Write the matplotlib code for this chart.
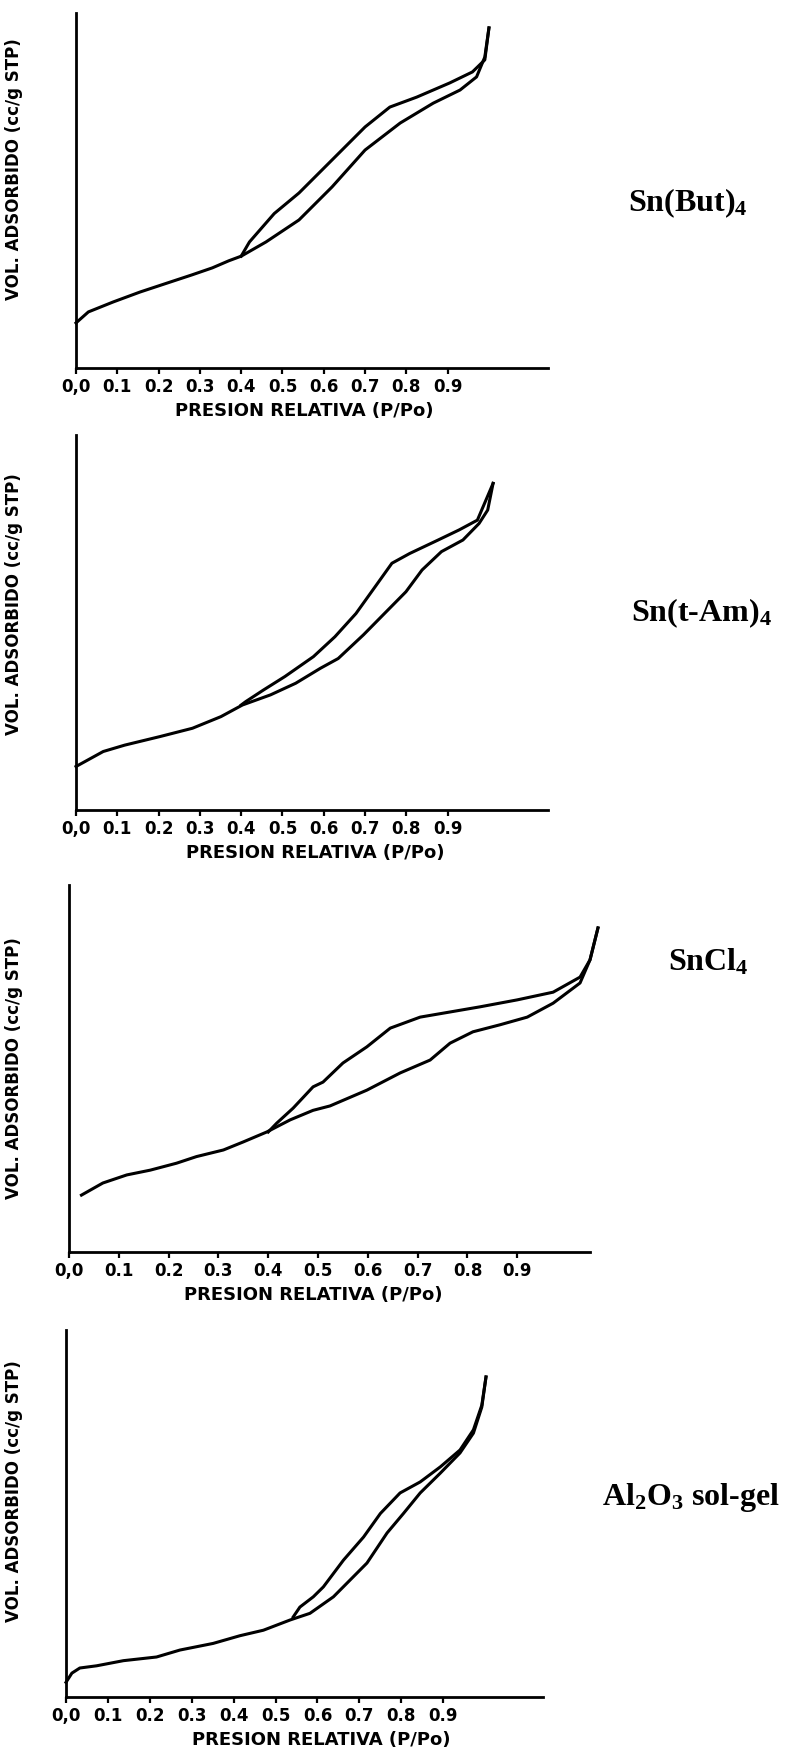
import matplotlib
matplotlib.use("Agg")
import matplotlib.pyplot as plt

# relative pressure ticks (0,0 written with comma as in the original)
tick_vals = [0.0, 0.1, 0.2, 0.3, 0.4, 0.5, 0.6, 0.7, 0.8, 0.9]
tick_labels = ["0,0", "0.1", "0.2", "0.3", "0.4", "0.5", "0.6", "0.7", "0.8", "0.9"]

sample_names = [r"Sn(But)$_4$", r"Sn(t-Am)$_4$", r"SnCl$_4$", r"Al$_2$O$_3$ sol-gel"]

# adsorbed volume in arbitrary units (axis height = 100)
# Sn(But)4
ads1_x = [0.0, 0.03, 0.09, 0.155, 0.22, 0.28, 0.33, 0.37, 0.40, 0.46, 0.54, 0.62, 0.70, 0.785, 0.865, 0.93, 0.97, 0.99, 1.0]
ads1_y = [12.7, 15.8, 18.6, 21.4, 23.9, 26.2, 28.2, 30.2, 31.5, 35.5, 41.7, 51.0, 61.4, 69.0, 74.6, 78.3, 82.0, 87.6, 95.8]
des1_x = [1.0, 0.99, 0.96, 0.905, 0.825, 0.76, 0.70, 0.62, 0.54, 0.48, 0.42, 0.40]
des1_y = [95.8, 86.8, 83.4, 80.3, 76.3, 73.5, 67.9, 58.6, 49.3, 43.5, 35.5, 31.5]

# Sn(t-Am)4
ads2_x = [0.0, 0.066, 0.118, 0.204, 0.282, 0.351, 0.403, 0.471, 0.532, 0.592, 0.635, 0.696, 0.747, 0.799, 0.838, 0.885, 0.937, 0.976, 0.997, 1.01]
ads2_y = [11.6, 15.6, 17.3, 19.6, 21.8, 24.9, 28.0, 30.7, 33.8, 37.8, 40.4, 46.7, 52.4, 58.2, 64.0, 68.9, 72.0, 76.4, 80.0, 87.1]
des2_x = [1.01, 0.972, 0.928, 0.877, 0.808, 0.765, 0.730, 0.678, 0.627, 0.575, 0.506, 0.454, 0.411, 0.40]
des2_y = [87.1, 77.3, 74.7, 72.0, 68.4, 65.8, 60.4, 52.4, 46.2, 40.9, 35.6, 32.0, 28.9, 28.0]

# SnCl4
ads3_x = [0.025, 0.068, 0.116, 0.163, 0.216, 0.256, 0.31, 0.35, 0.397, 0.444, 0.49, 0.524, 0.598, 0.665, 0.725, 0.765, 0.811, 0.865, 0.92, 0.972, 1.026, 1.046, 1.062]
ads3_y = [15.5, 18.8, 21.0, 22.3, 24.2, 26.0, 27.8, 30.0, 32.7, 36.0, 38.6, 39.8, 44.1, 48.8, 52.3, 56.9, 60.0, 61.9, 64.0, 67.8, 73.3, 79.6, 88.3]
des3_x = [1.062, 1.046, 1.026, 0.972, 0.90, 0.825, 0.765, 0.705, 0.645, 0.598, 0.55, 0.51, 0.49, 0.45, 0.417, 0.40]
des3_y = [88.3, 79.6, 74.9, 70.8, 68.7, 66.8, 65.4, 64.0, 61.0, 55.9, 51.5, 46.3, 45.0, 39.2, 35.1, 32.7]

# Al2O3 sol-gel
ads4_x = [0.0, 0.014, 0.033, 0.073, 0.137, 0.216, 0.272, 0.351, 0.415, 0.471, 0.535, 0.582, 0.638, 0.718, 0.766, 0.805, 0.845, 0.893, 0.94, 0.972, 0.992, 1.002]
ads4_y = [4.0, 6.5, 7.9, 8.5, 9.9, 10.9, 12.8, 14.6, 16.7, 18.2, 21.0, 22.8, 27.3, 36.5, 44.7, 50.0, 55.6, 61.0, 66.5, 71.9, 79.0, 87.2]
des4_x = [1.002, 0.992, 0.972, 0.94, 0.893, 0.845, 0.797, 0.75, 0.71, 0.662, 0.614, 0.59, 0.558, 0.542]
des4_y = [87.2, 79.5, 72.8, 67.3, 62.7, 58.6, 55.6, 50.0, 43.6, 37.3, 30.0, 27.3, 24.5, 21.8]

W, H = 791, 1754
fig = plt.figure(figsize=(W / 100, H / 100), dpi=100)
plt.rcParams["mathtext.fontset"] = "custom"
plt.rcParams["mathtext.rm"] = "Liberation Serif:bold"
plt.rcParams["mathtext.it"] = "Liberation Serif:bold"
plt.rcParams["mathtext.bf"] = "Liberation Serif:bold"

# panel boxes in pixels: left, right, top, bottom ; x max of axis
boxes = [(76, 548, 13, 368, 1.143),
         (76, 548, 435, 810, 1.143),
         (69, 590, 885, 1252, 1.046),
         (66, 543, 1330, 1697, 1.138)]
xlab_pos = [0.483, 0.506, 0.468, 0.535]
ylab_shift = [0.56, 0.55, 0.50, 0.56]
name_pos = [(688, 203), (701, 613), (708, 962), (691, 1497)]

curves = [(ads1_x, ads1_y, des1_x, des1_y),
          (ads2_x, ads2_y, des2_x, des2_y),
          (ads3_x, ads3_y, des3_x, des3_y),
          (ads4_x, ads4_y, des4_x, des4_y)]

for i in range(4):
    l, r, t, b, xmax = boxes[i]
    ax = fig.add_axes([l / W, 1 - b / H, (r - l) / W, (b - t) / H])
    ax.plot(curves[i][0], curves[i][1], color="black", lw=2.2, clip_on=False)
    ax.plot(curves[i][2], curves[i][3], color="black", lw=2.2, clip_on=False)
    ax.set_xlim(0, xmax)
    ax.set_ylim(0, 100)
    for s in ["top", "right"]:
        ax.spines[s].set_visible(False)
    for s in ["left", "bottom"]:
        ax.spines[s].set_linewidth(2.0)
    ax.set_xticks(tick_vals)
    ax.set_xticklabels(tick_labels, fontsize=12, fontweight="bold", family="DejaVu Sans")
    ax.tick_params(axis="x", direction="out", length=4, width=1.6, pad=3)
    ax.set_yticks([])
    ax.set_xlabel("PRESION RELATIVA (P/Po)", fontsize=13, fontweight="bold",
                  family="DejaVu Sans", labelpad=0)
    ax.xaxis.set_label_coords(xlab_pos[i], -34 / (b - t))
    ax.set_ylabel("VOL. ADSORBIDO (cc/g STP)", fontsize=12, fontweight="bold",
                  family="DejaVu Sans")
    ax.yaxis.set_label_coords(-(l - 23) / (r - l), ylab_shift[i])
    fig.text(name_pos[i][0] / W, 1 - name_pos[i][1] / H, sample_names[i],
             fontsize=23, fontweight="bold", family="Liberation Serif",
             ha="center", va="center")

fig.savefig("out.png", dpi=100)
